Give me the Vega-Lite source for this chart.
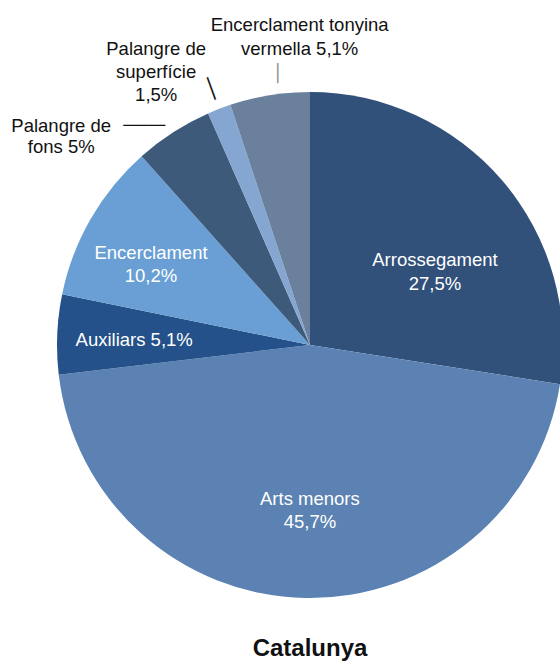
{
  "$schema": "https://vega.github.io/schema/vega-lite/v6.json",
  "width": 506,
  "height": 506,
  "autosize": {"type": "none"},
  "padding": {"left": 57, "top": 92, "right": 0, "bottom": 64},
  "background": "white",
  "config": {"view": {"stroke": null}},
  "title": {"text": "Catalunya", "orient": "bottom", "anchor": "middle", "font": "Liberation Sans", "fontSize": 24, "fontWeight": "bold", "color": "#111111", "offset": 9},
  "data": {"values": [
    {"cat": "Arrossegament", "v": 27.5, "i": 1, "label": "Arrossegament\n27,5%"},
    {"cat": "Arts menors", "v": 45.7, "i": 2, "label": "Arts menors\n45,7%"},
    {"cat": "Auxiliars", "v": 5.1, "i": 3, "label": "Auxiliars 5,1%"},
    {"cat": "Encerclament", "v": 10.2, "i": 4, "label": "Encerclament\n10,2%"},
    {"cat": "Palangre de fons", "v": 5.0, "i": 5, "label": "Palangre de\nfons 5%"},
    {"cat": "Palangre de superfície", "v": 1.5, "i": 6, "label": "Palangre de\nsuperfície\n1,5%"},
    {"cat": "Encerclament tonyina vermella", "v": 5.1, "i": 7, "label": "Encerclament tonyina\nvermella 5,1%"}
  ]},
  "encoding": {
    "theta": {"field": "v", "type": "quantitative", "stack": true},
    "order": {"field": "i", "type": "quantitative"}
  },
  "layer": [
    {
      "mark": {"type": "arc", "outerRadius": 253},
      "encoding": {
        "color": {"field": "cat", "type": "nominal", "legend": null,
          "scale": {"domain": ["Arrossegament", "Arts menors", "Auxiliars", "Encerclament", "Palangre de fons", "Palangre de superfície", "Encerclament tonyina vermella"],
                    "range": ["#31507A", "#5B82B3", "#24518A", "#699FD4", "#3E5A7A", "#84A6D0", "#6A809C"]}}
      }
    },
    {
      "mark": {"type": "text", "radius": 150, "dx": 11, "dy": 13, "font": "Liberation Sans", "fontSize": 18.5, "lineBreak": "\n", "lineHeight": 24, "color": "white", "align": "center", "baseline": "middle"},
      "encoding": {"detail": {"field": "cat"},
        "text": {"condition": {"test": "datum.cat === 'Arrossegament'", "field": "label"}, "value": ""}}
    },
    {
      "mark": {"type": "text", "radius": 165, "dx": 3, "dy": -11, "font": "Liberation Sans", "fontSize": 18.5, "lineBreak": "\n", "lineHeight": 23, "color": "white", "align": "center", "baseline": "middle"},
      "encoding": {"detail": {"field": "cat"},
        "text": {"condition": {"test": "datum.cat === 'Arts menors'", "field": "label"}, "value": ""}}
    },
    {
      "mark": {"type": "text", "radius": 176, "dy": 2, "font": "Liberation Sans", "fontSize": 18.5, "lineBreak": "\n", "lineHeight": 23, "color": "white", "align": "center", "baseline": "middle"},
      "encoding": {"detail": {"field": "cat"},
        "text": {"condition": {"test": "datum.cat === 'Auxiliars'", "field": "label"}, "value": ""}}
    },
    {
      "mark": {"type": "text", "radius": 180, "dx": -3, "dy": -2, "font": "Liberation Sans", "fontSize": 18.5, "lineBreak": "\n", "lineHeight": 23, "color": "white", "align": "center", "baseline": "middle"},
      "encoding": {"detail": {"field": "cat"},
        "text": {"condition": {"test": "datum.cat === 'Encerclament'", "field": "label"}, "value": ""}}
    },
    {
      "mark": {"type": "text", "radius": 253, "dx": -112, "dy": -6, "font": "Liberation Sans", "fontSize": 18.5, "lineBreak": "\n", "lineHeight": 21, "color": "#111111", "align": "center", "baseline": "middle"},
      "encoding": {"detail": {"field": "cat"},
        "text": {"condition": {"test": "datum.cat === 'Palangre de fons'", "field": "label"}, "value": ""}}
    },
    {
      "mark": {"type": "text", "radius": 253, "dx": -63, "dy": -60, "font": "Liberation Sans", "fontSize": 18.5, "lineBreak": "\n", "lineHeight": 23, "color": "#111111", "align": "center", "baseline": "middle"},
      "encoding": {"detail": {"field": "cat"},
        "text": {"condition": {"test": "datum.cat === 'Palangre de superfície'", "field": "label"}, "value": ""}}
    },
    {
      "mark": {"type": "text", "radius": 253, "dx": 30, "dy": -70, "font": "Liberation Sans", "fontSize": 18.5, "lineBreak": "\n", "lineHeight": 24, "color": "#111111", "align": "center", "baseline": "middle"},
      "encoding": {"detail": {"field": "cat"},
        "text": {"condition": {"test": "datum.cat === 'Encerclament tonyina vermella'", "field": "label"}, "value": ""}}
    },
    {
      "mark": {"type": "text", "radius": 253, "dx": -29, "dy": -6, "font": "DejaVu Sans Mono", "fontSize": 14, "color": "#111111", "align": "center", "baseline": "middle"},
      "encoding": {"detail": {"field": "cat"},
        "text": {"condition": {"test": "datum.cat === 'Palangre de fons'", "value": "─────"}, "value": ""}}
    },
    {
      "mark": {"type": "text", "radius": 274, "angle": -20, "font": "DejaVu Sans Mono", "fontSize": 20, "color": "#111111", "align": "center", "baseline": "middle"},
      "encoding": {"detail": {"field": "cat"},
        "text": {"condition": {"test": "datum.cat === 'Palangre de superfície'", "value": "│"}, "value": ""}}
    },
    {
      "mark": {"type": "text", "radius": 253, "dx": 8, "dy": -21, "font": "DejaVu Sans Mono", "fontSize": 17, "color": "#888888", "align": "center", "baseline": "middle"},
      "encoding": {"detail": {"field": "cat"},
        "text": {"condition": {"test": "datum.cat === 'Encerclament tonyina vermella'", "value": "│"}, "value": ""}}
    }
  ]
}
